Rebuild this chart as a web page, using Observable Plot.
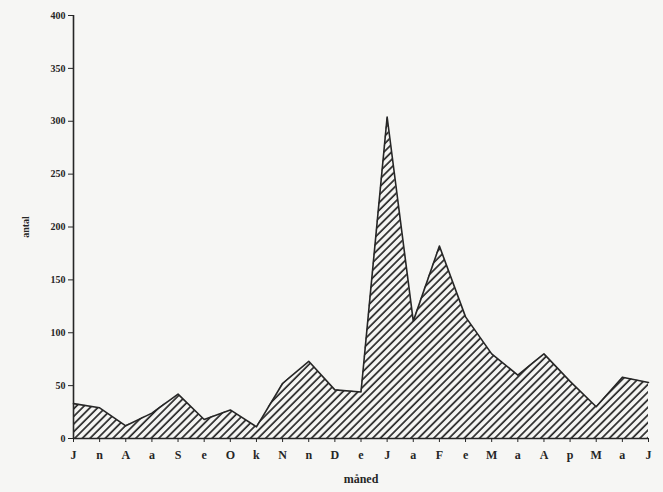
<!DOCTYPE html>
<html>
<head>
<meta charset="utf-8">
<script src="https://cdn.jsdelivr.net/npm/d3@7"></script>
<script src="https://cdn.jsdelivr.net/npm/@observablehq/plot@0.6"></script>
<style>
  html, body { margin: 0; padding: 0; background: #f6f6f4; }
  #chart svg { display: block; }
</style>
</head>
<body>
<div id="chart"></div>
<script>
const tickLabels = ["J","n","A","a","S","e","O","k","N","n","D","e","J","a","F","e","M","a","A","p","M","a","J"];
const values = [33, 29, 12, 24, 42, 18, 27, 11, 52, 73, 46, 44, 304, 111, 182, 115, 80, 60, 80, 54, 30, 58, 53];
const yTicks = [0, 50, 100, 150, 200, 250, 300, 350, 400];
const xLabel = "måned";
const yLabel = "antal";

const data = values.map((v, i) => ({i, v}));
const ink = "#262626";

const svg = Plot.plot({
  width: 663,
  height: 492,
  marginLeft: 73,
  marginRight: 15,
  marginTop: 15,
  marginBottom: 54,
  style: {background: "transparent", fontFamily: "'Liberation Serif', serif", fontSize: "12px", fontWeight: "bold", color: ink},
  x: {type: "linear", domain: [0, tickLabels.length - 1]},
  y: {domain: [0, 400]},
  marks: [
    Plot.areaY(data, {x: "i", y: "v", fill: "url(#hatch)"}),
    Plot.lineY(data, {x: "i", y: "v", stroke: ink, strokeWidth: 1.6}),
    Plot.ruleX([0], {stroke: ink, strokeWidth: 1.6}),
    Plot.ruleY([0], {stroke: ink, strokeWidth: 1.6}),
    Plot.axisX({ticks: d3.range(tickLabels.length), tickFormat: i => tickLabels[i], tickSize: 4, tickPadding: 8, label: xLabel, labelAnchor: "center", labelArrow: "none", labelOffset: 44, stroke: ink, fontSize: 12}),
    Plot.axisY({ticks: yTicks, tickSize: 5, tickPadding: 3, label: yLabel, labelAnchor: "center", labelArrow: "none", labelOffset: 52, stroke: ink, fontSize: 10})
  ]
});

d3.select(svg).insert("defs", ":first-child").html(
  `<pattern id="hatch" patternUnits="userSpaceOnUse" width="5.4" height="10" patternTransform="rotate(45)">
     <line x1="1" y1="0" x2="1" y2="10" stroke="${ink}" stroke-width="1.7"/>
   </pattern>`
);

document.getElementById("chart").appendChild(svg);
</script>
</body>
</html>
